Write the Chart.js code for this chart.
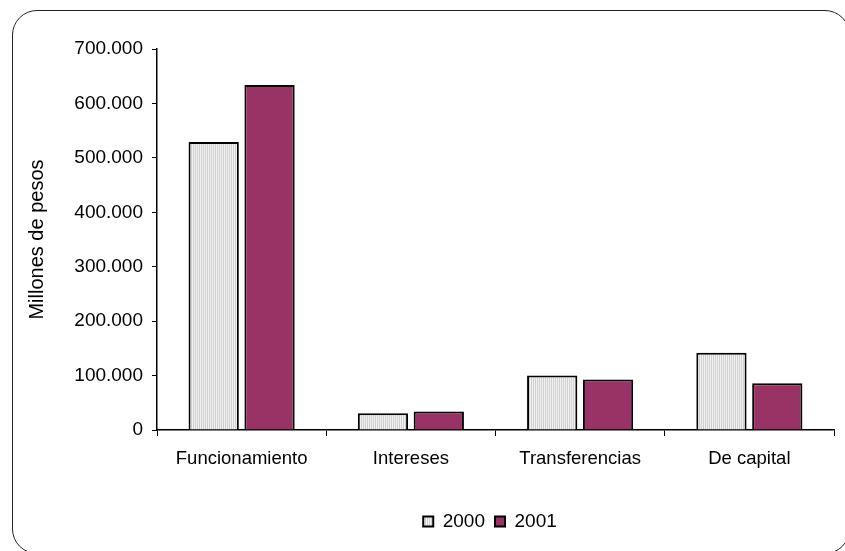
<!DOCTYPE html>
<html>
<head>
<meta charset="utf-8">
<script src="https://cdn.jsdelivr.net/npm/chart.js@4/dist/chart.umd.min.js"></script>
<style>
  html, body { margin: 0; padding: 0; background: #fff; overflow: hidden; }
  #wrap { position: relative; width: 845px; height: 551px; overflow: hidden; }
  #frame {
    position: absolute; left: 12px; top: 10px; width: 838px; height: 544px;
    border: 1.5px solid #222; border-radius: 25px; box-sizing: border-box;
    pointer-events: none;
  }
  canvas { position: absolute; left: 0; top: 0; }
</style>
</head>
<body>
<div id="wrap">
  <canvas id="chart" width="845" height="551"></canvas>
  <div id="frame"></div>
</div>
<script>
// Datos del gráfico
const categories = ['Funcionamiento', 'Intereses', 'Transferencias', 'De capital'];
const seriesNames = ['2000', '2001'];
const values2000 = [529000, 31000, 100000, 142000];
const values2001 = [634000, 34000, 93000, 86000];
const yTicks = [0, 100000, 200000, 300000, 400000, 500000, 600000, 700000];

// Relleno rayado vertical para la serie 2000
function stripePattern() {
    const c = document.createElement('canvas');
    c.width = 2;
    c.height = 2;
    const g = c.getContext('2d');
    g.fillStyle = '#f2f2f2';
    g.fillRect(0, 0, 2, 2);
    g.fillStyle = '#d0d0d0';
    g.fillRect(1, 0, 1, 2);
    return g.createPattern(c, 'repeat');
}

function fmt(v) {
    return v.toString().replace(/\B(?=(\d{3})+(?!\d))/g, '.');
}

// Mover la leyenda para centrarla bajo el área del gráfico
const legendShift = {
    id: 'legendShift',
    afterLayout(chart) {
        const lg = chart.legend;
        if (!lg) return;
        const w = lg.right - lg.left;
        const center = 490;
        lg.left = center - w / 2;
        lg.right = center + w / 2;
    }
};

const FONT = 'Liberation Sans, Arial, sans-serif';
const ctx = document.getElementById('chart').getContext('2d');
const chart = new Chart(ctx, {
    type: 'bar',
    data: {
        labels: categories,
        datasets: [{
            label: seriesNames[0],
            data: values2000,
            backgroundColor: stripePattern(),
            borderColor: '#000',
            borderWidth: 2
        }, {
            label: seriesNames[1],
            data: values2001,
            backgroundColor: '#993366',
            borderColor: '#000',
            borderWidth: 2
        }]
    },
    options: {
        responsive: false,
        animation: false,
        devicePixelRatio: 1,
        layout: { padding: { left: 25, right: 11, top: 49, bottom: 10 } },
        datasets: { bar: { categoryPercentage: 0.66, barPercentage: 0.9 } },
        plugins: {
            legend: {
                position: 'bottom',
                labels: {
                    color: '#000',
                    font: { family: FONT, size: 19 },
                    boxWidth: 10,
                    boxHeight: 10,
                    padding: 10
                }
            },
            tooltip: { enabled: false }
        },
        scales: {
            x: {
                grid: {
                    offset: true,
                    drawOnChartArea: false,
                    drawTicks: true,
                    tickLength: 6,
                    color: '#000'
                },
                border: { display: true, color: '#000', width: 1.5 },
                ticks: {
                    color: '#000',
                    font: { family: FONT, size: 18.5 },
                    padding: 12,
                    maxRotation: 0
                },
                afterFit(scale) { scale.height = 72; }
            },
            y: {
                min: 0,
                max: 700000,
                afterBuildTicks(scale) {
                    scale.ticks = yTicks.map(v => ({ value: v }));
                },
                grid: {
                    drawOnChartArea: false,
                    drawTicks: true,
                    tickLength: 5,
                    color: '#000'
                },
                border: { display: true, color: '#000', width: 1.5 },
                ticks: {
                    color: '#000',
                    font: { family: FONT, size: 19 },
                    padding: 9,
                    callback: v => fmt(v)
                },
                title: {
                    display: true,
                    text: 'Millones de pesos',
                    color: '#000',
                    font: { family: FONT, size: 20 },
                    padding: 0
                },
                afterFit(scale) { scale.width = 157 - 25; }
            }
        }
    },
    plugins: [legendShift]
});
</script>
</body>
</html>
